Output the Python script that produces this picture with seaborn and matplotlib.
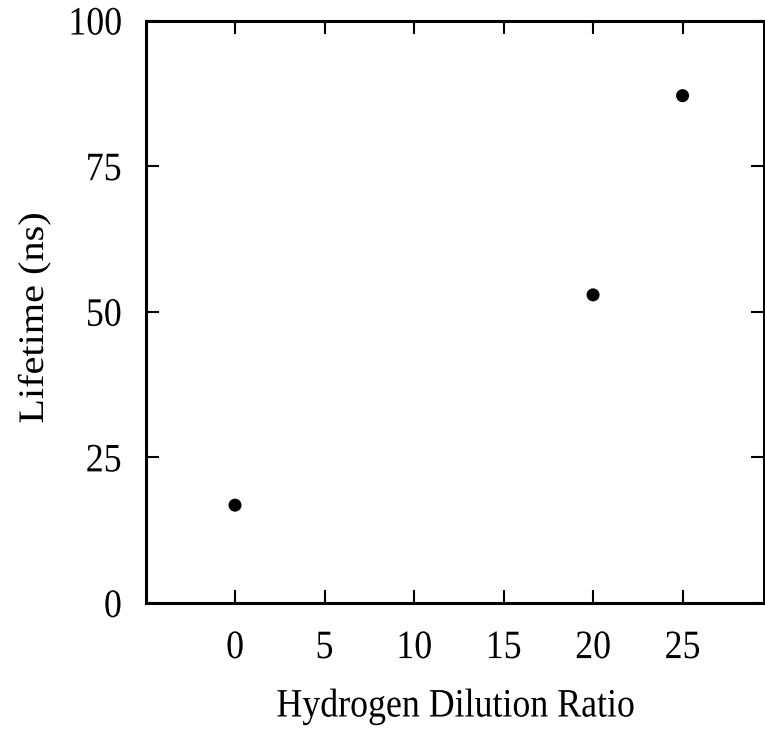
import matplotlib
matplotlib.use("Agg")
import matplotlib.pyplot as plt
import seaborn as sns
import pandas as pd
from matplotlib.patheffects import AbstractPathEffect
from matplotlib.transforms import Affine2D

dilution_ratio = [0, 20, 25]
lifetime_ns = [16.8, 52.9, 87.1]
x_ticks = [0, 5, 10, 15, 20, 25]
y_ticks = [0, 25, 50, 75, 100]

sns.set_theme(style="ticks")
plt.rcParams['font.family'] = ['Liberation Serif', 'DejaVu Serif']


class Squeeze(AbstractPathEffect):
    """Narrow glyphs (the reference uses a condensed-looking serif)."""
    def __init__(self, sx=1.0, sy=1.0, fx=0.5, fy=0.5):
        super().__init__()
        self.sx, self.sy, self.fx, self.fy = sx, sy, fx, fy

    def draw_path(self, renderer, gc, tpath, affine, rgbFace=None):
        ext = tpath.get_extents()
        px = ext.x0 + self.fx * (ext.x1 - ext.x0)
        py = ext.y0 + self.fy * (ext.y1 - ext.y0)
        pre = Affine2D().translate(-px, -py).scale(self.sx, self.sy).translate(px, py)
        renderer.draw_path(gc, tpath, pre + affine, rgbFace)


df = pd.DataFrame({"Hydrogen Dilution Ratio": dilution_ratio, "Lifetime (ns)": lifetime_ns})

W, H = 765, 734
L, R, T, B = 145.5, 763.5, 20.5, 603.0
fig = plt.figure(figsize=(W / 100, H / 100), dpi=100)
ax = fig.add_axes([L / W, 1 - B / H, (R - L) / W, (B - T) / H])

sns.scatterplot(data=df, x="Hydrogen Dilution Ratio", y="Lifetime (ns)", ax=ax,
                color="black", s=88, edgecolor="none", zorder=5)

FS = 29
SQ = 0.89
ax.set_xlim(-5, 29.52)
ax.set_ylim(0, 100)
ax.set_xticks(x_ticks)
ax.set_yticks(y_ticks)
ax.tick_params(direction="in", length=9.5, width=1.5, top=True, right=True,
               labelsize=FS, colors="black")
ax.tick_params(axis="x", pad=19.5)
ax.tick_params(axis="y", pad=17)
for sp in ax.spines.values():
    sp.set_linewidth(2.2)
    sp.set_color("black")

for lbl in ax.get_xticklabels():
    lbl.set_path_effects([Squeeze(sx=SQ, fx=0.5)])
for lbl in ax.get_yticklabels():
    lbl.set_path_effects([Squeeze(sx=SQ, fx=1.0)])

ax.set_xlabel("Hydrogen Dilution Ratio", fontsize=FS, color="black",
              path_effects=[Squeeze(sx=SQ, fx=0.5)])
ax.xaxis.set_label_coords(((L + R) / 2 + 1 - L) / (R - L), -(688 - B) / (B - T))

ax.set_ylabel("Lifetime (ns)", fontsize=FS, color="black", va="center",
              path_effects=[Squeeze(sy=SQ, fy=0.5)])
ax.yaxis.set_label_coords((34.5 - L) / (R - L), (B - 318) / (B - T))

fig.savefig("out.png", dpi=100, facecolor="white")
